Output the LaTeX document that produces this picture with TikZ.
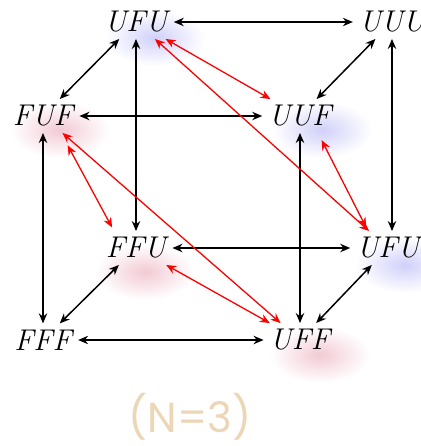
\documentclass[tikz,border=0pt]{standalone}
\usepackage{fontspec}
\newfontfamily\capfont{Poppins}
\usetikzlibrary{arrows.meta,calc}
\definecolor{cCap}  {RGB}{236,214,182}
\definecolor{cHaloB}{RGB}{208,208,250}
\definecolor{cHaloR}{RGB}{242,202,212}
\tikzset{
  st/.style    = {inner sep=3pt, font=\fontsize{15}{17}\selectfont\itshape},
  edge/.style  = {{Stealth[length=5pt,width=4.2pt]}-{Stealth[length=5pt,width=4.2pt]},
                  black, line width=0.75pt},
  hop/.style   = {edge, red, line width=0.65pt},
  haloB/.style = {inner color=cHaloB, outer color=white},
  haloR/.style = {inner color=cHaloR, outer color=white},
  capt/.style  = {font=\capfont\fontsize{21}{24}\selectfont, text=cCap},
}

\begin{document}
\begin{tikzpicture}[x=0.5pt, y=-0.5pt]
  \useasboundingbox (0,0) rectangle (421,446);
  \clip (0,0) rectangle (421,446);

  % ---- soft halos behind the states ---------------------------------
  \shade[haloB] (155,38)  ellipse [x radius=25pt, y radius=14pt];
  \shade[haloB] (322,130) ellipse [x radius=25pt, y radius=14pt];
  \shade[haloB] (405,265) ellipse [x radius=25pt, y radius=14pt];
  \shade[haloR] (60,130)  ellipse [x radius=25pt, y radius=14pt];
  \shade[haloR] (145,272) ellipse [x radius=25pt, y radius=14pt];
  \shade[haloR] (320,355) ellipse [x radius=25pt, y radius=14pt];

  % ---- back face ----------------------------------------------------
  \node[st] (ufuT) at (136,22)  {UFU};
  \node[st] (uuu)  at (392,22)  {UUU};
  \node[st] (ffu)  at (136,248) {FFU};
  \node[st] (ufuR) at (388,248) {UFU};
  % ---- front face ---------------------------------------------------
  \node[st] (fuf)  at (43,116)  {FUF};
  \node[st] (uuf)  at (300,116) {UUF};
  \node[st] (fff)  at (43,340)  {FFF};
  \node[st] (uff)  at (300,340) {UFF};

  % ---- cube edges ---------------------------------------------------
  \foreach \a/\b in {ufuT/uuu, ufuT/fuf, uuu/uuf, fuf/uuf, ffu/ufuR,
                     ffu/fff, ufuR/uff, fff/uff}
    \draw[edge] (\a) -- (\b);
  \foreach \a/\b in {ufuT/ffu, fuf/fff, uuf/uff}
    \draw[edge] (\a.south) -- (\b.north);
  \draw[edge] (uuu.south) -- (uuu.south |- ufuR.north);

  % ---- red transitions ----------------------------------------------
  \foreach \a/\b in {ufuT/uuf, ufuT/ufuR, fuf/uff, ffu/uff}
    \draw[hop] (\a) -- (\b);
  \draw[hop, shorten <=7pt, shorten >=2pt] ([xshift=9pt]fuf.south) -- ([xshift=-11pt]ffu.north);
  \draw[hop, shorten <=4pt, shorten >=2pt] ([xshift=9pt]uuf.south) -- ([xshift=-10pt]ufuR.north);

  \node[capt] (cap) at (190,417) {(N=3)};
\end{tikzpicture}
\end{document}
